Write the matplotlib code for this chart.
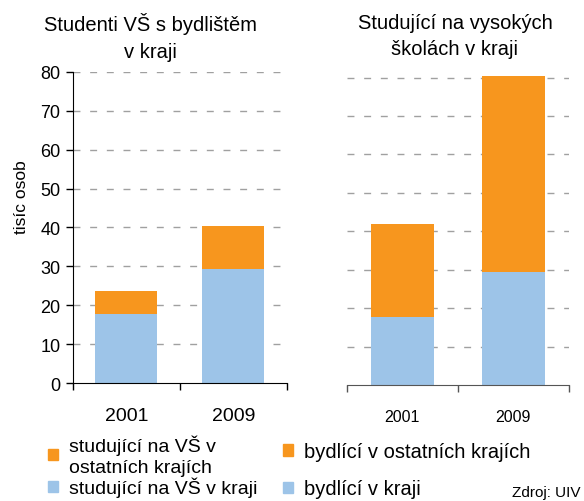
import matplotlib.pyplot as plt
from matplotlib.patches import Patch

plt.rcParams["font.family"] = ["Liberation Sans", "DejaVu Sans"]

years = ["2001", "2009"]

# left chart: students with residence in the region (thousands)
left_in_region = [17.7, 29.3]
left_other_regions = [6.0, 11.1]

# right chart: students at universities in the region (thousands)
right_in_region = [17.7, 29.3]
right_other_regions = [24.3, 51.0]

left_labels = ["studující na VŠ v\nostatních krajích", "studující na VŠ v kraji"]
right_labels = ["bydlící v ostatních krajích", "bydlící v kraji"]

orange = "#F7961E"
blue = "#9DC4E8"
grid_kw = dict(color="#A0A0A0", linestyle=(0, (5, 7)), linewidth=1.0)

fig = plt.figure(figsize=(5.84, 5.02), dpi=100)

# ---- left panel
ax1 = fig.add_axes([0.125, 0.235, 0.366, 0.620])
x = range(len(years))
ax1.bar(x, left_in_region, width=0.58, color=blue, zorder=2)
ax1.bar(x, left_other_regions, width=0.58, bottom=left_in_region, color=orange, zorder=2)
ax1.set_xlim(-0.5, 1.5)
ax1.set_ylim(0, 80)
ax1.set_yticks(range(0, 81, 10))
for v in range(10, 81, 10):
    ax1.axhline(v, zorder=1, **grid_kw)
ax1.set_xticks([-0.5, 0.5, 1.5])
ax1.set_xticklabels([])
ax1.set_xticks(list(x), minor=True)
ax1.set_xticklabels(years, minor=True, fontsize=14)
ax1.tick_params(axis="x", which="minor", length=0, pad=17)
ax1.tick_params(axis="x", which="major", direction="out", length=5, width=1)
ax1.tick_params(axis="y", direction="out", length=5, width=1, labelsize=13, pad=4)
ax1.spines["top"].set_visible(False)
ax1.spines["right"].set_visible(False)
ax1.set_ylabel("tisíc osob", fontsize=12.5)
ax1.yaxis.set_label_coords(-0.205, 0.6)

fig.text(150 / 584, 0.925, "Studenti VŠ s bydlištěm\nv kraji", fontsize=14.5,
         ha="center", va="center", linespacing=1.5)

leg1 = ax1.legend(handles=[Patch(color=orange), Patch(color=blue)], labels=left_labels,
                  loc="upper left", bbox_to_anchor=(0.066, 0.152), bbox_transform=fig.transFigure,
                  frameon=False, fontsize=14, handlelength=0.5, handleheight=0.5,
                  handletextpad=0.55, labelspacing=0.05, borderpad=0)
for t in leg1.get_texts():
    t.set_linespacing(1.3)

# ---- right panel
ax2 = fig.add_axes([0.594, 0.231, 0.380, 0.620])
ax2.bar(x, right_in_region, width=0.57, color=blue, zorder=2)
ax2.bar(x, right_other_regions, width=0.57, bottom=right_in_region, color=orange, zorder=2)
ax2.set_xlim(-0.5, 1.5)
ax2.set_ylim(0, 81)
for v in range(10, 81, 10):
    ax2.axhline(v, zorder=1, **grid_kw)
ax2.set_yticks([])
ax2.set_xticks([-0.5, 0.5, 1.5])
ax2.set_xticklabels([])
ax2.set_xticks(list(x), minor=True)
ax2.set_xticklabels(years, minor=True, fontsize=11.5)
ax2.tick_params(axis="x", which="minor", length=0, pad=17)
ax2.tick_params(axis="x", which="major", direction="out", length=5, width=1, color="#555555")
for s in ["top", "right", "left"]:
    ax2.spines[s].set_visible(False)
ax2.spines["bottom"].set_color("#555555")

fig.text(455 / 584, 0.927, "Studující na vysokých\nškolách v kraji", fontsize=14.5,
         ha="center", va="center", linespacing=1.45)

ax2.legend(handles=[Patch(color=orange), Patch(color=blue)], labels=right_labels,
           loc="upper left", bbox_to_anchor=(0.467, 0.137), bbox_transform=fig.transFigure,
           frameon=False, fontsize=14.5, handlelength=0.5, handleheight=0.5,
           handletextpad=0.55, labelspacing=0.9, borderpad=0)

fig.text(512 / 584, 0.004, "Zdroj: UIV", fontsize=11, ha="left", va="bottom")

fig.savefig("out.png", dpi=100)
